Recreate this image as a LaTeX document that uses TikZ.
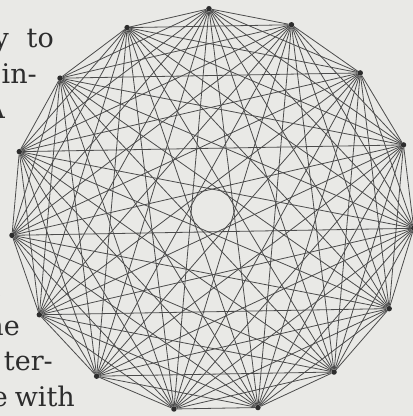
\documentclass[tikz,border=0pt]{standalone}
\usepackage{fontspec}
\setmainfont{DejaVu Serif}
\definecolor{paper}{RGB}{233,233,230}
\definecolor{ink}{RGB}{45,45,45}
\tikzset{
 vertex/.style={circle,fill=ink,inner sep=0pt,minimum size=5.5pt},
 edge/.style={line width=0.8pt,ink!85},
 word/.style={anchor=base east,inner sep=0pt,text=ink,font=\fontsize{27}{36}\selectfont}
}
\begin{document}
\begin{tikzpicture}[x=1pt,y=-1pt]
 % page
 \useasboundingbox (0,0) rectangle (413,416);
 \clip (0,0) rectangle (413,416);
 \fill[paper] (0,0) rectangle (413,416);
 % text column cut off at the left
 \node[word] (w1) at (9,47) {y};
 \node[word] (w2) at (54,47) {to};
 \node[word] (w3) at (37,83) {in-};
 \node[word] (w4) at (5,118) {A};
 \node[word] (w5) at (3,297) {.};
 \node[word] (w6) at (20,335) {he};
 \node[word] (w7) at (53,370) {ter-};
 \node[word] (w8) at (8,406) {e};
 \node[word] (w9) at (75,406) {with};
 % the fifteen points
 \foreach \i in {0,...,14}
  \node[vertex] (v\i) at ({212.5+202*cos(91+24*\i)},{210.7-202*sin(91+24*\i)}) {};
 % every point joined to every other
 \foreach \i in {0,...,13}{
  \pgfmathtruncatemacro\nxt{\i+1}
  \foreach \j in {\nxt,...,14}
   \draw[edge] (v\i) -- (v\j);
 }
\end{tikzpicture}
\end{document}
